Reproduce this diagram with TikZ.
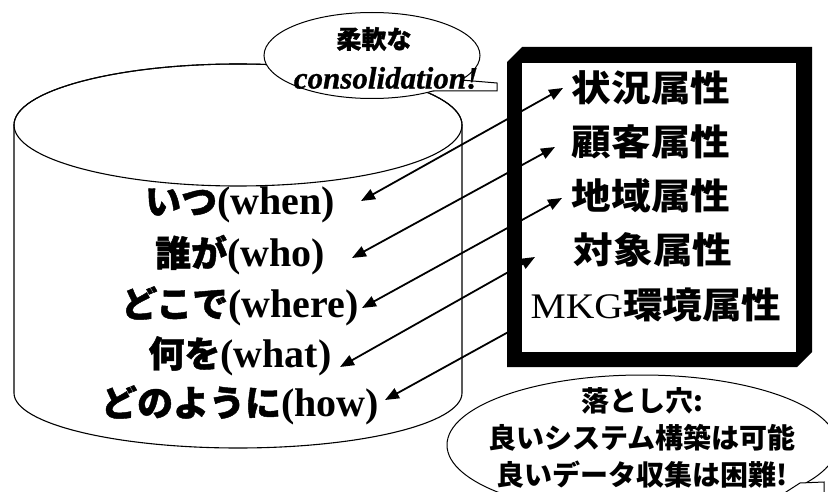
\documentclass[tikz,border=0pt]{standalone}
\usepackage{fontspec}
\setmainfont{Liberation Serif}
\newfontfamily\jp{Noto Sans CJK JP}
\newfontfamily\jph[FakeBold=1.2]{Noto Sans CJK JP}
\newfontfamily\jpw[FakeStretch=1.1]{Noto Sans CJK JP}
\newfontfamily\serifw[FakeStretch=1.1]{Liberation Serif}
\newfontfamily\serifh[FakeBold=0.8]{Liberation Serif}
\usetikzlibrary{arrows.meta}
\begin{document}
\begin{tikzpicture}[x=1pt,y=-1pt,
  bub/.style={draw=black,line width=1pt,fill=white},
  cyl/.style={draw=black,line width=1.1pt,fill=white},
  lefttxt/.style={inner sep=0pt,anchor=center,font=\fontsize{40}{42}\selectfont\bfseries},
  righttxt/.style={inner sep=0pt,anchor=center,font=\fontsize{36}{38}\jpw\bfseries},
  pittxt/.style={inner sep=0pt,align=center,font=\fontsize{28}{37}\jp\bfseries},
  conn/.style={line width=1.8pt,{Triangle[length=14pt,width=11pt]}-{Triangle[length=14pt,width=11pt]}},
  connone/.style={line width=1.8pt,{Triangle[length=14pt,width=11pt]}-}
]
\useasboundingbox (0,0) rectangle (828,492);
\clip (0,0) rectangle (828,492);
\fill[white] (0,0) rectangle (828,492);

% cylinder
\path[cyl] (14,125) -- (14,393) arc[start angle=180,end angle=0,x radius=224,y radius=55]
  -- (462,125) arc[start angle=0,end angle=-180,x radius=224,y radius=61] -- cycle;
\draw[line width=1.1pt] (238,125) ellipse[x radius=224,y radius=61];

% top callout
\draw[bub] (372,55.5) ellipse[x radius=108,y radius=43];
\fill[white] (461,80) -- (497,83) -- (497,91) -- (433,91) -- (433,78) -- cycle;
\draw[line width=1pt] (461,80) -- (497,83) -- (497,91) -- (433,91);
\node[inner sep=0pt,font=\fontsize{25}{27}\jph\bfseries] (soft) at (374,39) {柔軟な};
\node[inner sep=0pt,font=\fontsize{31}{33}\serifh\bfseries\itshape] (consol) at (386,78) {consolidation!};

% attribute box
\fill[black] (507,62) -- (522,47) -- (812,47) -- (812,352) -- (797,367) -- (507,367) -- cycle;
\fill[white] (522,63) rectangle (796,352);
\node[righttxt] (a1) at (651,88) {状況属性};
\node[righttxt] (a2) at (651,142) {顧客属性};
\node[righttxt] (a3) at (651,196) {地域属性};
\node[righttxt] (a4) at (653,250) {対象属性};
\node[righttxt] (a5) at (656,305) {{\serifw\mdseries MKG}環境属性};

% left texts
\node[lefttxt] (when) at (240,205) {{\fontsize{36}{40}\jph\bfseries いつ}(when)};
\node[lefttxt] (who) at (240,255) {{\fontsize{36}{40}\jph\bfseries 誰が}(who)};
\node[lefttxt] (where) at (240,306) {{\fontsize{36}{40}\jph\bfseries どこで}(where)};
\node[lefttxt] (what) at (240,356) {{\fontsize{36}{40}\jph\bfseries 何を}(what)};
\node[lefttxt] (how) at (240,405) {{\fontsize{36}{40}\jph\bfseries どのように}(how)};

% connector end points
\coordinate (w1) at (361,201); \coordinate (r1) at (563,88);
\coordinate (w2) at (352,258); \coordinate (r2) at (555,147);
\coordinate (w3) at (362,308); \coordinate (r3) at (562,198);
\coordinate (w4) at (340,367); \coordinate (r4) at (535,257);
\coordinate (w5) at (385,400); \coordinate (r5) at (512,330);
\draw[conn] (w1) -- (r1);
\draw[conn] (w2) -- (r2);
\draw[conn] (w3) -- (r3);
\draw[conn] (w4) -- (r4);
\draw[connone] (w5) -- (r5);

% bottom callout
\draw[bub] (642,445) ellipse[x radius=195,y radius=70];
\fill[white] (786,492) -- (800,483) -- (824,482) -- (824,500) -- (786,500) -- cycle;
\draw[line width=1pt] (786,492) -- (800,483) -- (824,482) -- (824,500);
\node[pittxt] (pit) at (642,438) {落とし穴:\\良いシステム構築は可能\\良いデータ収集は困難!};
\end{tikzpicture}
\end{document}
